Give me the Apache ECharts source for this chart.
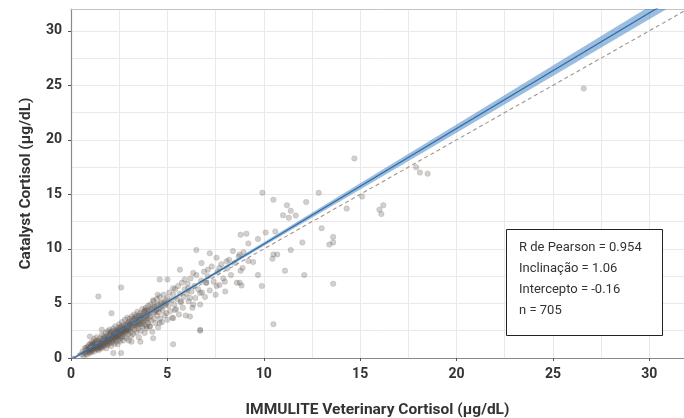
<!DOCTYPE html>
<html>
<head>
<meta charset="utf-8">
<script src="https://cdn.jsdelivr.net/npm/echarts@6/dist/echarts.min.js"></script>
<style>
html,body{margin:0;padding:0;background:#fff;}
#chart{width:684px;height:418px;}
</style>
</head>
<body>
<div id="chart"></div>
<script>
// ---- Data ----
const xAxisTitle = 'IMMULITE Veterinary Cortisol (μg/dL)';
const yAxisTitle = 'Catalyst Cortisol (μg/dL)';
const statsLines = ['R de Pearson = 0.954', 'Inclinação = 1.06', 'Intercepto = -0.16', 'n = 705'];

// regression line (slope 1.06, intercept -0.16) end points
const fitX = [0, 32];
const fitY = [-0.16, 33.76];
// identity line
const idX = [0, 32];
const idY = [0, 32];
// confidence band
const bandX    = [0,     3,    5,    10,    15,    20,    25,    30,    32];
const bandLow  = [-0.28, 2.94, 5.05, 10.26, 15.46, 20.66, 25.86, 31.06, 33.14];
const bandHigh = [-0.04, 3.10, 5.23, 10.62, 16.02, 21.42, 26.82, 32.22, 34.38];

// scatter points [IMMULITE, Catalyst]
const cortisolPoints = [
[0.55,0.35],[0.6,0.6],[0.65,0.2],[0.7,0.5],[0.72,0.9],[0.75,0.4],[0.8,0.7],[0.82,0.3],[0.85,1.0],[0.88,0.55],
[0.9,0.8],[0.92,1.2],[0.95,0.45],[0.98,0.95],[1.0,0.65],[1.0,1.3],[1.02,1.0],[1.05,0.5],[1.08,0.85],[1.1,1.15],
[1.1,1.5],[1.12,0.7],[1.15,1.0],[1.18,1.35],[1.2,0.6],[1.2,1.75],[1.22,0.9],[1.25,1.2],[1.28,1.55],[1.3,0.8],
[1.3,1.05],[1.32,1.9],[1.35,1.3],[1.38,0.95],[1.4,1.6],[1.4,1.2],[1.42,0.7],[1.45,1.45],[1.48,1.05],[1.5,1.8],
[1.5,1.3],[1.52,0.85],[1.55,1.6],[1.58,1.15],[1.6,2.1],[1.6,1.45],[1.62,0.95],[1.65,1.75],[1.68,1.3],[1.7,2.0],
[1.7,1.55],[1.72,1.1],[1.75,1.85],[1.78,1.4],[1.8,2.3],[1.8,1.65],[1.82,0.9],[1.85,2.0],[1.88,1.5],[1.9,1.2],
[1.9,2.45],[1.92,1.8],[1.95,1.55],[1.98,2.15],[2.0,1.35],[2.0,1.9],[2.0,2.6],
[2.02,1.65],[2.05,2.2],[2.08,1.1],[2.1,1.85],[2.1,2.45],[2.12,1.45],[2.15,2.05],[2.18,2.7],[2.2,1.6],[2.2,2.25],
[2.22,1.9],[2.25,1.3],[2.25,2.5],[2.28,2.0],[2.3,1.75],[2.3,2.9],[2.32,2.3],[2.35,1.5],[2.35,2.1],[2.38,2.6],
[2.4,1.9],[2.4,2.35],[2.42,1.25],[2.45,2.75],[2.45,2.15],[2.48,1.7],[2.5,2.45],[2.5,3.1],[2.52,2.0],[2.55,1.55],
[2.55,2.6],[2.58,2.25],[2.6,2.9],[2.6,1.85],[2.62,2.4],[2.65,3.3],[2.65,2.05],[2.68,2.7],[2.7,1.6],[2.7,2.35],
[2.72,3.0],[2.75,2.55],[2.78,1.95],[2.8,2.8],[2.8,3.5],[2.82,2.3],[2.85,2.65],[2.88,1.8],[2.9,3.1],[2.9,2.45],
[2.92,3.7],[2.95,2.8],[2.98,2.2],[3.0,3.3],[3.0,2.6],[3.0,1.6],
[3.02,2.95],[3.05,3.6],[3.08,2.4],[3.1,3.15],[3.12,2.0],[3.15,3.8],[3.18,2.75],[3.2,3.4],[3.22,2.2],[3.25,3.0],
[3.28,4.0],[3.3,2.6],[3.32,3.55],[3.35,3.2],[3.38,2.35],[3.4,3.85],[3.42,2.9],[3.45,4.25],[3.48,3.35],[3.5,2.7],
[3.5,3.7],[3.52,1.9],[3.55,3.1],[3.58,4.1],[3.6,3.5],[3.62,2.5],[3.65,3.9],[3.68,3.25],[3.7,4.5],[3.72,2.85],
[3.75,3.65],[3.78,4.2],[3.8,3.05],[3.82,2.3],[3.85,3.9],[3.88,4.6],[3.9,3.4],[3.92,2.7],[3.95,4.05],[3.98,3.6],
[4.0,4.8],[4.0,3.2],
[4.05,4.3],[4.08,2.9],[4.1,3.8],[4.12,4.9],[4.15,3.45],[4.2,4.5],[4.22,2.4],[4.25,4.1],[4.28,5.2],[4.3,3.6],
[4.35,4.7],[4.38,3.2],[4.4,4.35],[4.45,5.4],[4.48,3.9],[4.5,4.9],[4.52,2.8],[4.55,4.2],[4.6,5.6],[4.62,3.6],
[4.65,4.6],[4.7,5.1],[4.72,3.3],[4.75,4.4],[4.8,5.8],[4.85,3.9],[4.88,4.85],[4.9,5.3],[4.95,4.1],[5.0,5.5],[5.0,3.5],
[5.05,4.8],[5.1,6.0],[5.15,4.3],[5.2,5.3],[5.25,3.7],[5.3,5.8],[5.35,4.9],[5.4,6.3],[5.45,4.5],[5.5,5.4],
[5.55,6.6],[5.6,4.0],[5.65,5.9],[5.7,5.1],[5.75,6.9],[5.8,4.6],[5.85,5.6],[5.9,6.3],[5.95,3.9],[6.0,5.9],
[6.05,6.8],[6.1,5.2],[6.2,7.3],[6.25,6.1],[6.3,4.6],[6.4,6.6],[6.45,5.5],[6.5,7.6],[6.6,6.3],[6.7,4.9],
[6.75,7.1],[6.8,6.0],[6.9,7.9],[6.95,5.6],[7.0,6.9],
[7.1,7.5],[7.2,6.2],[7.3,8.4],[7.4,7.0],[7.5,5.8],[7.6,7.9],[7.7,6.7],[7.8,8.6],[7.9,7.3],[8.0,6.1],
[8.1,8.2],[8.2,9.0],[8.3,7.6],[8.5,8.7],[8.6,6.9],[8.7,9.3],[8.8,8.0],[8.95,9.7],
// second pass over the dense band
[0.78,0.95],[0.86,0.75],[0.94,0.6],[1.04,1.2],[1.06,0.75],[1.14,1.3],[1.16,0.85],[1.24,1.0],[1.26,1.45],[1.34,1.15],
[1.36,0.85],[1.44,1.3],[1.46,0.95],[1.54,1.35],[1.56,1.0],[1.64,1.55],[1.66,1.15],[1.74,1.65],[1.76,1.3],[1.84,1.75],
[1.86,1.25],[1.94,1.95],[1.96,1.45],[2.04,1.75],[2.06,2.35],[2.14,1.95],[2.16,1.6],[2.24,2.15],[2.26,1.8],[2.34,2.45],
[2.36,1.95],[2.44,2.5],[2.46,2.0],[2.54,2.35],[2.56,2.8],[2.64,2.55],[2.66,2.2],[2.74,2.75],[2.76,2.4],[2.84,3.0],
[2.86,2.5],[2.94,3.2],[2.96,2.6],[3.04,3.1],[3.06,2.7],[3.14,3.4],[3.16,2.9],[3.24,3.6],[3.26,3.15],[3.34,3.75],
[3.36,3.0],[3.44,3.5],[3.46,3.1],[3.54,3.9],[3.56,3.3],[3.64,3.7],[3.66,3.1],[3.74,4.0],[3.76,3.4],[3.84,4.3],
[3.86,3.6],[3.94,3.8],[3.96,4.4],[4.04,4.0],[4.14,4.4],[4.24,4.7],[4.34,4.2],[4.44,4.8],[4.54,4.5],[4.64,5.0],
[4.74,4.8],[4.84,5.1],[4.94,5.0],
// scattered points
[1.42,5.64],[2.6,6.47],[2.1,4.1],[1.6,2.6],[0.98,1.96],[2.6,0.45],[2.2,0.45],[3.14,1.5],[3.6,1.5],[4.26,1.8],
[4.1,2.9],[5.0,7.2],[4.6,7.2],[4.5,5.8],[4.26,5.3],[3.83,4.4],[3.92,2.9],[4.6,3.2],[5.3,3.65],[6.17,3.8],
[5.3,1.26],[6.7,2.5],[6.7,2.6],[5.65,8.1],[6.34,7.8],[7.1,8.1],[7.7,8.25],[6.77,8.7],[8.07,8.86],[8.75,6.9],
[7.98,7.0],[7.03,6.9],[7.55,6.6],[6.08,6.4],[5.3,6.4],[5.9,7.2],[6.17,5.5],[6.7,5.95],[5.7,5.2],[6.34,4.9],
[5.39,4.4],[4.44,4.4],[6.5,9.9],[7.2,9.6],[7.55,9.2],[8.4,9.8],[8.75,9.5],[9.1,11.4],
[14.7,18.3],[17.9,17.5],[18.5,16.9],[18.1,17.0],[9.93,15.15],[12.85,15.15],[10.5,14.5],[12.2,14.3],[11.2,14.0],
[11.4,13.5],[11.0,13.1],[11.3,12.85],[11.66,13.06],[14.3,13.7],[15.1,14.8],[16.2,14.0],[16.1,13.2],[13.0,11.9],
[13.6,11.1],[13.6,10.6],[12.0,10.6],[11.4,9.9],[10.6,11.6],[10.1,11.5],[9.7,10.9],[9.2,10.5],[8.8,11.3],
[10.5,9.5],[10.7,9.5],[10.45,9.1],[9.45,8.8],[9.2,8.9],[8.9,8.25],[11.1,8.0],[12.1,7.6],[9.7,7.6],[9.9,6.6],
[8.85,6.65],[13.6,6.8],[10.5,3.1],[26.6,24.7],[16.0,13.6],[13.4,10.4]
];

// ---- Chart ----
const chart = echarts.init(document.getElementById('chart'));
const FONT = 'Roboto';
const gridColor = '#e9e9e9';

const bandPoly = [];
for (let i = 0; i < bandX.length; i++) bandPoly.push([bandX[i], bandLow[i]]);
for (let i = bandX.length - 1; i >= 0; i--) bandPoly.push([bandX[i], bandHigh[i]]);

const tickLabel = { margin: 9, fontFamily: FONT, fontWeight: 'bold', fontSize: 14, color: '#333', showMaxLabel: false,
  formatter: v => (v % 5 === 0 ? String(v) : '') };
const titleStyle = { fontFamily: FONT, fontWeight: 'bold', fontSize: 15.5, color: '#333' };

chart.setOption({
  animation: false,
  backgroundColor: '#fff',
  textStyle: { fontFamily: FONT },
  grid: { left: 71, right: 0, top: 9, bottom: 60, containLabel: false, outerBoundsMode: 'none' },
  xAxis: [{
    type: 'value', min: 0, max: 31.8, interval: 5,
    name: xAxisTitle, nameLocation: 'middle', nameGap: 44,
    nameTextStyle: titleStyle,
    axisLine: { show: true, lineStyle: { color: '#8a8a8a', width: 1.2 } },
    axisTick: { show: true, length: 3, lineStyle: { color: '#555' } },
    axisLabel: tickLabel,
    splitLine: { show: true, lineStyle: { color: gridColor, width: 1 } },
    minorTick: { show: false, splitNumber: 2 },
    minorSplitLine: { show: true, lineStyle: { color: gridColor, width: 1 } }
  }, {
    type: 'value', position: 'top', min: 0, max: 31.8,
    axisLine: { show: true, onZero: false, lineStyle: { color: '#c4c4c4', width: 1 } },
    axisTick: { show: false }, axisLabel: { show: false }, splitLine: { show: false }
  }],
  yAxis: {
    type: 'value', min: 0, max: 32, interval: 5,
    name: yAxisTitle, nameLocation: 'middle', nameGap: 37, nameRotate: 90,
    nameTextStyle: titleStyle,
    axisLine: { show: true, lineStyle: { color: '#8a8a8a', width: 1.2 } },
    axisTick: { show: true, length: 3, lineStyle: { color: '#555' } },
    axisLabel: tickLabel,
    splitLine: { show: true, lineStyle: { color: gridColor, width: 1 } },
    minorTick: { show: false, splitNumber: 2 },
    minorSplitLine: { show: true, lineStyle: { color: gridColor, width: 1 } }
  },
  series: [
    {
      type: 'scatter', symbolSize: 5.5, z: 2,
      data: cortisolPoints,
      itemStyle: { color: 'rgba(75,75,75,0.32)', borderColor: 'rgba(140,110,90,0.4)', borderWidth: 0.6 }
    },
    {
      type: 'custom', z: 3, clip: true,
      data: [0],
      renderItem: (params, api) => {
        const pts = bandPoly.map(p => api.coord(p));
        return { type: 'polygon', shape: { points: pts }, style: { fill: 'rgba(72,134,196,0.55)', stroke: null } };
      }
    },
    {
      type: 'line', z: 4, symbol: 'none', silent: true,
      data: idX.map((x, i) => [x, idY[i]]),
      lineStyle: { color: '#a0948a', width: 1.1, type: [4, 3] }
    },
    {
      type: 'line', z: 5, symbol: 'none', silent: true,
      data: fitX.map((x, i) => [x, fitY[i]]),
      lineStyle: { color: '#2f6aa3', width: 1.2 }
    }
  ],
  graphic: [
    { type: 'rect', shape: { x: 506.5, y: 229.5, width: 156, height: 106 },
      style: { fill: '#fff', stroke: '#222', lineWidth: 1 }, z: 100 },
    ...statsLines.map((t, i) => ({
      type: 'text', left: 519, top: 241.5 + i * 21, z: 101,
      style: { text: t, fill: '#333', font: '13px Roboto' }
    }))
  ]
});
</script>
</body>
</html>
